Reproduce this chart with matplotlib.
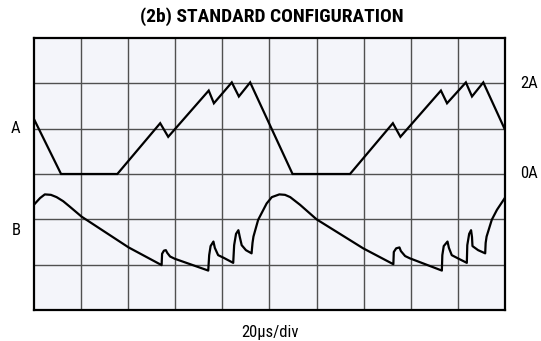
import matplotlib
matplotlib.use("Agg")
import matplotlib.pyplot as plt
from matplotlib import font_manager

# Scope screen: 10 x 6 divisions
n_xdiv = 10
n_ydiv = 6

# Trace A (inductor current), in screen divisions
a_x = [0.01, 0.575, 1.77, 2.68, 2.85, 3.71, 3.82, 4.20, 4.35, 4.59,
       5.49, 6.71, 7.62, 7.78, 8.64, 8.77, 9.17, 9.30, 9.54, 9.99]
a_y = [4.19, 3.00, 3.00, 4.12, 3.82, 4.84, 4.56, 5.02, 4.71, 5.02,
       3.00, 3.00, 4.12, 3.82, 4.84, 4.56, 5.02, 4.71, 5.02, 4.00]

# Trace B (switch node / output ripple), in screen divisions
b_x = [0.015, 0.13, 0.23, 0.36, 0.48, 0.62, 0.76, 1.01, 2.01, 2.71,
       2.72, 2.76, 2.80, 2.83, 2.89, 2.99, 3.70,
       3.72, 3.75, 3.81, 3.84, 3.91, 4.03, 4.23,
       4.25, 4.29, 4.34, 4.37, 4.41, 4.50, 4.62,
       4.64, 4.66, 4.76, 4.94, 5.05, 5.21, 5.33, 5.44, 5.65, 6.00, 6.99, 7.63,
       7.64, 7.69, 7.76, 7.79, 7.88, 7.98, 8.66,
       8.67, 8.70, 8.78, 8.81, 8.87, 9.00, 9.19,
       9.20, 9.24, 9.28, 9.30, 9.31, 9.43, 9.58,
       9.59, 9.61, 9.72, 9.83, 9.99]
b_y = [2.34, 2.47, 2.55, 2.54, 2.49, 2.40, 2.28, 2.06, 1.38, 0.99,
       1.24, 1.31, 1.32, 1.26, 1.18, 1.13, 0.87,
       1.21, 1.41, 1.51, 1.37, 1.21, 1.15, 1.04,
       1.43, 1.68, 1.76, 1.61, 1.43, 1.32, 1.25,
       1.48, 1.62, 1.99, 2.35, 2.49, 2.55, 2.54, 2.49, 2.32, 2.00, 1.36, 1.01,
       1.28, 1.36, 1.38, 1.30, 1.19, 1.14, 0.87,
       1.21, 1.41, 1.51, 1.37, 1.21, 1.14, 1.04,
       1.43, 1.68, 1.76, 1.61, 1.41, 1.32, 1.25,
       1.48, 1.62, 1.99, 2.21, 2.46]

# pick a narrow face if one is installed
names = {f.name for f in font_manager.fontManager.ttflist}
narrow = [n for n in ["Liberation Sans Narrow", "DejaVu Sans Condensed", "Roboto Condensed"]
          if n in names] + ["DejaVu Sans"]
condensed = narrow[0] != "DejaVu Sans"

fig = plt.figure(figsize=(5.41, 3.41), dpi=100)
ax = fig.add_axes([0.0628, 0.0909, 0.8706, 0.7977])
ax.set_facecolor("#f4f5fa")
ax.set_xlim(0, n_xdiv)
ax.set_ylim(0, n_ydiv)

for i in range(1, n_xdiv):
    ax.axvline(i, color="#505050", lw=1.0, zorder=1)
for j in range(1, n_ydiv):
    ax.axhline(j, color="#505050", lw=1.0, zorder=1)

ax.plot(a_x, a_y, color="black", lw=1.6, zorder=3, solid_joinstyle="miter")
ax.plot(b_x, b_y, color="black", lw=1.6, zorder=3, solid_joinstyle="round")

ax.set_xticks([])
ax.set_yticks([])
for s in ax.spines.values():
    s.set_linewidth(1.6)
    s.set_color("black")

lab = 12 if condensed else 10
ax.text(-0.40, 4.0, "A", ha="center", va="center", fontsize=lab, family=narrow, clip_on=False)
ax.text(-0.38, 1.76, "B", ha="center", va="center", fontsize=lab, family=narrow, clip_on=False)
ax.text(10.32, 5.0, "2A", ha="left", va="center", fontsize=lab, family=narrow, clip_on=False)
ax.text(10.32, 3.0, "0A", ha="left", va="center", fontsize=lab, family=narrow, clip_on=False)

fig.text(272 / 541, 1 - 17 / 341, "(2b) STANDARD CONFIGURATION", ha="center", va="center",
         fontsize=14 if condensed else 10, fontweight="bold", family=narrow)
fig.text(270 / 541, 1 - 332 / 341, "20\u00b5s/div", ha="center", va="center",
         fontsize=lab, family=narrow)

fig.savefig("out.png", dpi=100)
